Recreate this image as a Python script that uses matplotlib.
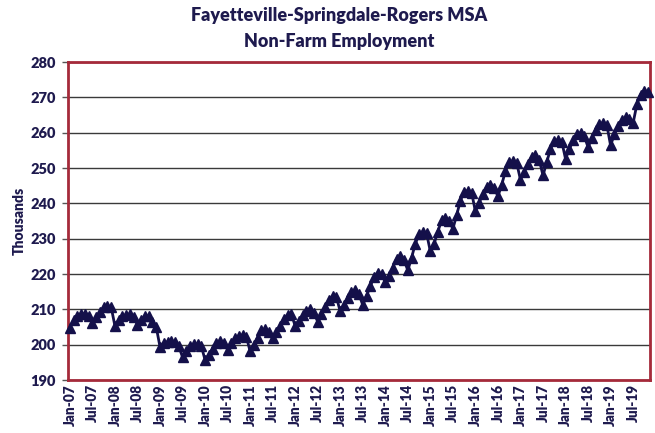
import matplotlib
matplotlib.use("Agg")
import matplotlib.pyplot as plt

title_lines = ["Fayetteville-Springdale-Rogers MSA", "Non-Farm Employment"]
y_label = "Thousands"

# Monthly non-farm employment (thousands), Jan-2007 .. Nov-2019
emp_2007 = [204.8, 206.9, 208.0, 208.6, 208.8, 208.0, 206.0, 207.8, 209.3, 210.6, 211.0, 210.6]
emp_2008 = [205.3, 206.9, 208.0, 208.4, 208.6, 207.9, 205.6, 207.0, 208.2, 208.0, 206.5, 205.0]
emp_2009 = [199.4, 200.4, 200.8, 201.0, 200.8, 199.5, 196.5, 198.3, 199.7, 200.1, 200.2, 199.6]
emp_2010 = [195.7, 197.0, 198.9, 200.6, 201.0, 200.4, 198.6, 200.6, 201.8, 202.5, 202.7, 202.3]
emp_2011 = [198.1, 199.9, 202.0, 204.1, 204.4, 203.6, 201.8, 203.6, 205.2, 207.4, 208.4, 208.6]
emp_2012 = [205.3, 206.8, 208.3, 209.5, 210.0, 209.0, 206.5, 208.6, 210.8, 212.6, 213.8, 213.4]
emp_2013 = [209.4, 211.2, 213.3, 214.9, 215.5, 214.3, 211.2, 213.8, 216.5, 219.2, 220.4, 220.0]
emp_2014 = [217.6, 219.3, 221.8, 224.3, 225.0, 224.0, 221.0, 224.6, 228.6, 231.3, 232.0, 231.5]
emp_2015 = [226.4, 228.6, 232.0, 235.2, 235.8, 235.0, 232.8, 236.6, 240.8, 243.2, 243.6, 243.0]
emp_2016 = [237.7, 240.2, 242.6, 244.6, 245.2, 244.4, 242.0, 245.2, 249.2, 251.6, 252.0, 251.4]
emp_2017 = [246.7, 249.0, 251.2, 253.2, 253.8, 252.3, 247.9, 251.6, 255.4, 257.6, 258.0, 257.5]
emp_2018 = [252.6, 255.3, 257.8, 259.5, 260.0, 259.0, 255.9, 258.4, 260.8, 262.4, 262.8, 262.2]
emp_2019 = [256.4, 259.5, 261.8, 263.6, 264.3, 264.0, 262.7, 268.0, 270.8, 271.8, 271.6]

employment = (emp_2007 + emp_2008 + emp_2009 + emp_2010 + emp_2011 + emp_2012 +
              emp_2013 + emp_2014 + emp_2015 + emp_2016 + emp_2017 + emp_2018 + emp_2019)

tick_labels = ["Jan-07", "Jul-07", "Jan-08", "Jul-08", "Jan-09", "Jul-09", "Jan-10",
               "Jul-10", "Jan-11", "Jul-11", "Jan-12", "Jul-12", "Jan-13", "Jul-13",
               "Jan-14", "Jul-14", "Jan-15", "Jul-15", "Jan-16", "Jul-16", "Jan-17",
               "Jul-17", "Jan-18", "Jul-18", "Jan-19", "Jul-19"]
y_ticks = [190, 200, 210, 220, 230, 240, 250, 260, 270, 280]

navy = "#14104A"
text_col = "#1E1A4E"
border = "#A52A3A"
font = ["Lato", "DejaVu Sans"]

fig = plt.figure(figsize=(6.55, 4.33), dpi=100)
ax = fig.add_axes([68 / 655, 1 - 380 / 433, (650 - 68) / 655, (380 - 62) / 433])

x = list(range(len(employment)))
ax.plot(x, employment, color=navy, lw=2.0, marker="^", markersize=7,
        markerfacecolor=navy, markeredgecolor=navy, zorder=3, clip_on=False)

ax.set_xlim(-0.5, len(employment) - 0.5)
ax.set_ylim(190, 280)
ax.set_yticks(y_ticks)
ax.set_yticklabels([str(v) for v in y_ticks], fontsize=10.5, fontweight="heavy",
                   color=text_col, family=font)
ax.set_xticks(list(range(0, len(employment), 6))[:len(tick_labels)])
ax.set_xticklabels(tick_labels, rotation=90, fontsize=9.8, fontweight="heavy",
                   color=text_col, family=font)
ax.tick_params(axis="x", length=0, pad=3)
ax.tick_params(axis="y", length=4, width=1, color="#555555", pad=5)

ax.grid(axis="y", color="#3a3a3a", lw=1.0)
ax.set_axisbelow(True)
for s in ax.spines.values():
    s.set_color(border)
    s.set_linewidth(2)

fig.text(19 / 655, 1 - 221 / 433, y_label, rotation=90, ha="center", va="center",
         fontsize=10, fontweight="heavy", color=text_col, family=font)
fig.text(339 / 655, 1 - 16 / 433, title_lines[0], ha="center", va="center",
         fontsize=13, fontweight="heavy", color=text_col, family=font)
fig.text(339 / 655, 1 - 41 / 433, title_lines[1], ha="center", va="center",
         fontsize=13, fontweight="heavy", color=text_col, family=font)

fig.savefig("out.png", dpi=100)
